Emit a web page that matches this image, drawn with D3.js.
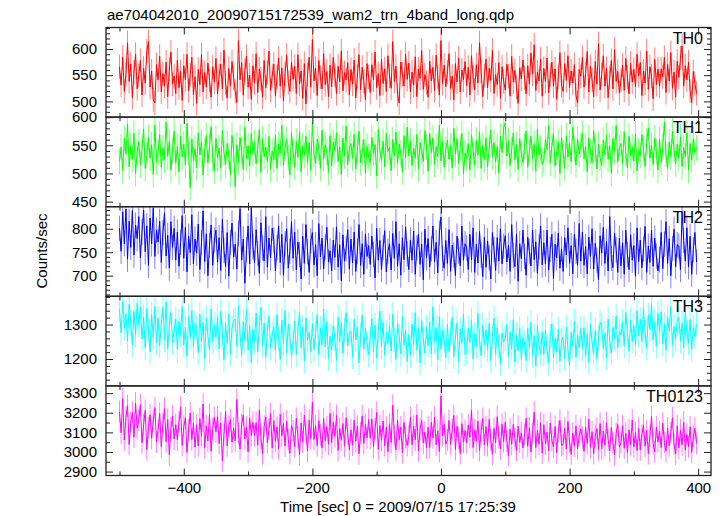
<!DOCTYPE html>
<html>
<head>
<meta charset="utf-8">
<script src="https://cdn.jsdelivr.net/npm/d3@7"></script>
<style>
  html, body { margin: 0; padding: 0; background: #fff; }
  svg { display: block; font-family: "Liberation Sans", Arial, Helvetica, sans-serif; }
</style>
</head>
<body>
<div id="chart"></div>
<script>
// ---- data ----
const titleText = "ae704042010_20090715172539_wam2_trn_4band_long.qdp";
const xLabel = "Time [sec] 0 = 2009/07/15 17:25:39";
const yLabel = "Counts/sec";
const binStart = -500;   // time of first bin (s)
const binSec = 2.5;      // bin spacing (s)
const xTicksMajor = [-400, -200, 0, 200, 400];
const xTicksMinor = [-500, -300, -100, 100, 300];

const bandNames = ["TH0", "TH1", "TH2", "TH3", "TH0123"];
const bandErrors = [23, 23, 27, 36, 56];

const th0 = [
566,531,584,519,552,612,538,571,507,556,590,524,
549,578,512,563,535,596,614,527,558,503,497,570,
541,586,518,553,529,575,509,562,594,533,548,515,
579,526,557,502,568,541,590,520,551,584,513,547,
496,561,532,589,518,555,527,573,540,508,566,537,
582,514,549,571,524,598,535,506,563,529,576,545,
519,498,616,541,574,512,559,586,527,550,504,568,
535,591,517,562,543,508,578,526,555,596,521,549,
571,510,547,583,529,564,501,553,588,536,519,575,
542,567,515,589,533,558,506,572,495,551,584,527,
618,539,563,511,578,546,524,591,532,557,509,569,
528,584,550,515,567,537,596,520,555,541,574,512,
561,533,579,507,548,589,522,565,538,503,572,546,
517,570,541,594,526,553,511,580,534,562,519,587,
548,525,614,538,567,513,497,575,552,529,590,542,
573,518,556,531,585,509,562,544,597,523,551,536,
508,577,539,565,521,588,547,512,616,534,569,528,
556,591,525,548,503,572,537,583,518,560,541,576,
530,565,512,587,546,522,570,535,612,557,509,549,
581,526,563,540,597,515,551,532,574,506,566,538,
522,571,548,510,586,537,559,527,496,564,543,579,
545,514,568,533,592,552,608,521,556,539,581,510,
563,538,583,516,550,575,529,562,504,547,593,531,
519,572,540,587,526,558,535,570,512,497,561,548,
584,527,553,595,518,567,541,509,576,533,610,522,
551,587,529,563,507,545,578,524,599,538,557,516,
540,569,521,582,546,514,573,537,561,528,590,549,
574,511,558,535,596,523,566,548,505,580,532,562,
529,562,547,584,517,571,539,593,525,556,508,577,
546,583,606,529,568,541,575,520,498,557,534,515];

const th1 = [
521,547,505,562,534,588,512,549,526,571,500,538,
556,515,543,579,509,532,564,527,551,498,586,520,
537,569,511,545,524,591,530,557,506,541,575,518,
548,503,566,529,552,515,589,538,475,561,523,544,
510,572,533,556,497,541,567,519,548,583,526,504,
562,528,545,509,576,537,515,553,531,498,568,542,
476,551,520,564,539,507,582,526,549,513,571,535,
555,517,543,578,502,561,530,547,521,566,508,540,
524,568,509,552,536,585,514,545,560,528,497,573,
538,511,557,529,574,503,549,532,566,519,555,506,
590,534,518,561,545,509,577,526,551,538,502,567,
513,556,540,572,521,547,498,563,531,584,516,544,
553,527,569,508,542,575,519,537,560,501,548,530,
519,564,535,551,496,578,541,523,557,512,571,539,
546,505,560,531,573,518,552,536,503,567,528,582,
531,558,514,545,527,569,508,555,539,521,576,547,
504,571,537,563,516,548,530,586,522,557,511,543,
559,525,549,510,580,534,562,518,546,571,499,536,
527,553,506,568,541,515,559,532,574,509,550,524,
563,512,545,577,529,555,520,548,501,566,537,581,
590,531,558,514,543,572,524,551,507,562,535,519,
548,575,511,539,566,527,553,504,579,532,545,516,
523,560,542,585,518,549,571,513,538,556,500,564,
537,509,567,529,554,521,582,543,515,561,534,550,
571,526,547,503,563,538,519,576,544,508,552,528,
514,559,533,568,525,549,501,562,539,585,521,546,
553,518,574,536,510,566,531,547,522,570,505,541,
532,569,545,512,557,581,527,550,516,563,538,506,
560,520,548,591,534,509,556,529,575,543,517,552,
527,565,512,546,530,572,506,553,524,561,537,545];

const th2 = [
801,752,836,768,842,735,816,760,839,744,808,779,
826,738,793,840,751,806,722,823,768,844,741,797,
772,816,728,792,834,742,786,716,815,760,801,733,
793,720,771,828,737,803,708,784,749,830,725,778,
748,810,713,770,838,730,789,700,765,808,722,776,
797,729,781,711,820,754,719,792,699,771,812,740,
767,714,790,843,733,778,684,755,806,725,845,762,
727,798,748,705,813,759,731,826,718,780,738,801,
776,710,760,806,728,788,701,768,800,716,752,815,
737,793,712,772,745,693,784,726,809,751,707,774,
792,723,766,700,811,740,780,714,761,803,729,753,
710,776,739,804,718,766,689,787,731,757,798,714,
778,727,793,709,752,809,722,768,703,789,741,764,
724,784,745,695,801,733,775,713,760,796,708,752,
768,712,790,737,815,720,768,701,781,734,804,746,
713,776,733,795,703,759,788,724,767,691,799,738,
779,719,757,806,730,771,706,791,825,737,716,775,
726,798,709,765,744,700,784,752,721,806,733,768,
759,713,788,734,802,707,767,727,794,744,698,782,
718,774,738,693,792,756,711,781,731,800,725,763,
785,729,765,709,809,743,719,789,688,768,736,797,
741,701,782,752,721,797,734,772,705,761,806,723,
770,725,797,712,756,788,694,767,738,791,716,757,
709,781,744,802,726,764,704,788,752,722,811,731,
793,722,762,704,782,741,800,714,769,733,691,785,
748,803,726,773,710,826,737,717,791,755,707,780,
721,770,703,797,745,713,787,733,764,699,802,730,
776,717,757,805,707,763,728,797,720,780,742,710,
734,792,715,767,815,726,779,700,758,799,719,766,
763,713,836,775,731,802,719,784,703,756,792,729];

const th3 = [
1345,1276,1368,1290,1331,1252,1359,1305,1240,1338,1270,1362,
1298,1351,1258,1322,1233,1347,1284,1221,1329,1263,1352,1247,
1318,1239,1301,1350,1255,1366,1230,1296,1335,1248,1281,1316,
1228,1309,1270,1352,1241,1293,1209,1324,1262,1341,1236,1303,
1289,1219,1330,1253,1306,1202,1318,1268,1226,1345,1250,1299,
1263,1321,1229,1338,1274,1198,1304,1246,1331,1215,1290,1312,
1316,1237,1356,1271,1211,1308,1255,1343,1227,1297,1190,1285,
1251,1333,1222,1292,1350,1240,1304,1206,1280,1324,1232,1271,
1292,1224,1329,1259,1199,1313,1245,1340,1218,1301,1263,1208,
1248,1310,1213,1283,1336,1232,1292,1194,1319,1255,1277,1221,
1302,1228,1276,1329,1214,1290,1241,1345,1235,1308,1201,1266,
1225,1297,1259,1196,1322,1250,1305,1216,1284,1334,1239,1273,
1281,1206,1315,1255,1293,1189,1270,1327,1229,1290,1247,1212,
1262,1318,1221,1298,1203,1283,1339,1235,1306,1211,1277,1246,
1295,1223,1330,1256,1199,1304,1266,1215,1324,1240,1283,1193,
1270,1211,1301,1241,1335,1226,1288,1188,1311,1258,1217,1292,
1239,1307,1214,1352,1250,1291,1197,1323,1228,1282,1255,1204,
1301,1222,1275,1320,1207,1264,1305,1192,1287,1246,1330,1213,
1219,1290,1248,1313,1200,1273,1236,1332,1257,1210,1298,1240,
1284,1227,1303,1195,1265,1319,1213,1291,1238,1186,1275,1250,
1258,1300,1207,1279,1229,1314,1191,1270,1223,1288,1199,1262,
1247,1195,1289,1231,1306,1210,1268,1180,1295,1242,1216,1279,
1214,1284,1226,1188,1266,1302,1203,1260,1220,1287,1194,1253,
1263,1201,1293,1228,1182,1277,1237,1310,1205,1270,1232,1289,
1230,1291,1208,1272,1190,1301,1249,1217,1283,1199,1262,1307,
1296,1229,1275,1204,1316,1252,1216,1291,1260,1325,1233,1280,
1270,1309,1238,1336,1276,1223,1313,1251,1298,1242,1341,1267,
1315,1251,1347,1277,1231,1328,1285,1360,1256,1307,1237,1333,
1278,1337,1244,1300,1225,1322,1281,1352,1240,1294,1259,1313,
1321,1252,1304,1233,1340,1276,1246,1315,1228,1290,1265,1301];

const th0123 = [
3205,3098,3272,3061,3177,3236,3038,3150,3201,3075,3249,3121,
3163,3241,3047,3139,3212,3012,3124,3190,3070,3158,3226,3051,
3110,3197,3027,3145,3222,3052,3166,2985,3121,3183,3066,3140,
3062,3153,3228,3033,3130,3174,2998,3112,3199,3063,3148,3024,
3139,3031,3170,3083,3245,3020,3134,3056,3191,3004,3118,3177,
3103,3180,3043,3148,2955,3090,3206,3031,3130,3165,3050,3122,
3057,3268,3094,3014,3141,3189,3066,3126,3000,3172,3085,3151,
3084,3150,3034,3214,3070,2990,3131,3178,3047,3116,3196,3020,
3160,3055,3128,3016,3193,3083,3145,3030,3157,3064,2993,3135,
3107,3027,3172,3075,2986,3148,3051,3188,3095,3005,3161,3068,
3254,3064,3134,3032,3160,3086,3020,3170,3058,3129,3039,3197,
3048,3151,3080,3186,3007,3120,3060,3145,3030,3175,3093,3012,
3113,3035,3162,3055,3131,2991,3098,3184,3043,3140,3072,3166,
3070,3168,3026,3116,3202,3013,3135,3059,3158,3032,3126,3001,
3144,3049,3238,3084,3011,3163,3062,3127,2996,3151,3075,3033,
3079,3176,3037,3132,3061,3189,3005,3118,3160,3046,3101,3021,
3126,3023,3152,3072,3177,3036,3108,3002,3286,3083,3140,3040,
3062,3161,3039,3116,3186,3012,3131,3070,2992,3144,3050,3109,
3048,3138,3075,3214,3022,3112,3053,3157,3008,3106,3171,3035,
3130,3033,3166,3061,2989,3120,3047,3180,3073,3015,3142,3052,
3152,3056,2982,3116,3039,3141,3068,3008,3132,3049,3098,3020,
3089,3172,3029,3123,3000,3096,3203,3022,3110,3040,3149,2994,
3139,3043,3101,3005,3147,3058,3026,3130,2996,3104,3161,3033,
3038,3121,3015,3156,3052,2988,3097,3030,3133,3017,3084,3118,
3073,3004,3127,3043,3168,3023,3103,2992,3082,3119,3012,3145,
3016,3107,3034,3149,3062,3006,3124,3047,2985,3094,3140,3026,
3046,3134,3019,3096,2998,3113,3037,3163,3025,3101,3008,3120,
3011,3088,3137,3029,3110,2991,3081,3181,3043,3000,3127,3052,
3105,3022,3147,3049,3004,3122,3031,3097,3175,3041,2990,3133,
3020,3112,3036,3152,3010,3090,3027,3128,2998,3080,3120,3044];

const bandValues = [th0, th1, th2, th3, th0123];
const yDomains = [[470, 641], [441, 600], [656, 847], [1122, 1382], [2880, 3337]];
const yTicksMajor = [[500, 550, 600], [450, 500, 550, 600], [700, 750, 800], [1200, 1300], [2900, 3000, 3100, 3200, 3300]];
const yMinorStep = [10, 10, 10, 20, 50];

// ---- styling / layout ----
const colors = ["#ff0000", "#00ff00", "#0000ff", "#00ffff", "#ff00ff"];
const W = 723, H = 516;
const plotL = 106, plotR = 711, plotT = 27.5, plotB = 475.5;
const nP = bandNames.length;
const pH = (plotB - plotT) / nP;
const fontSize = 15;

const svg = d3.select("#chart").append("svg")
  .attr("width", W).attr("height", H)
  .attr("viewBox", `0 0 ${W} ${H}`);
svg.append("rect").attr("width", W).attr("height", H).attr("fill", "#fff");
const defs = svg.append("defs");

const x = d3.scaleLinear().domain([-521, 420]).range([plotL, plotR]);

bandNames.forEach((name, p) => {
  const y0 = plotT + p * pH, y1 = y0 + pH;
  const dom = yDomains[p];
  const y = d3.scaleLinear().domain(dom).range([y1, y0]);
  const vals = bandValues[p];
  const err = bandErrors[p];
  const data = vals.map((v, i) => ({ t: binStart + i * binSec, v }));

  const cid = "clip" + p;
  defs.append("clipPath").attr("id", cid)
    .append("rect").attr("x", plotL).attr("y", y0).attr("width", plotR - plotL).attr("height", pH);

  const g = svg.append("g").attr("clip-path", `url(#${cid})`);
  // error bars
  g.selectAll("line.err").data(data).join("line")
    .attr("class", "err")
    .attr("x1", d => x(d.t)).attr("x2", d => x(d.t))
    .attr("y1", d => y(d.v - err)).attr("y2", d => y(d.v + err))
    .attr("stroke", colors[p]).attr("stroke-opacity", 0.5).attr("stroke-width", 1);
  // connecting line
  g.append("path").datum(data)
    .attr("d", d3.line().x(d => x(d.t)).y(d => y(d.v)))
    .attr("fill", "none").attr("stroke", colors[p]).attr("stroke-width", 1);

  // minor y ticks
  const minor = d3.range(Math.ceil(dom[0] / yMinorStep[p]) * yMinorStep[p], dom[1] + 0.001, yMinorStep[p])
    .filter(v => !yTicksMajor[p].includes(v));
  const axL = svg.append("g").attr("transform", `translate(${plotL},0)`)
    .call(d3.axisLeft(y).tickValues(yTicksMajor[p]).tickSize(-7).tickSizeOuter(0).tickPadding(9).tickFormat(d3.format("d")));
  const axLm = svg.append("g").attr("transform", `translate(${plotL},0)`)
    .call(d3.axisLeft(y).tickValues(minor).tickSize(-4).tickSizeOuter(0).tickFormat(""));
  const axR = svg.append("g").attr("transform", `translate(${plotR},0)`)
    .call(d3.axisRight(y).tickValues(yTicksMajor[p]).tickSize(-7).tickSizeOuter(0).tickFormat(""));
  const axRm = svg.append("g").attr("transform", `translate(${plotR},0)`)
    .call(d3.axisRight(y).tickValues(minor).tickSize(-4).tickSizeOuter(0).tickFormat(""));
  // x ticks top and bottom
  const axT = svg.append("g").attr("transform", `translate(0,${y0})`)
    .call(d3.axisTop(x).tickValues(xTicksMajor).tickSize(-7).tickSizeOuter(0).tickFormat(""));
  const axTm = svg.append("g").attr("transform", `translate(0,${y0})`)
    .call(d3.axisTop(x).tickValues(xTicksMinor).tickSize(-4).tickSizeOuter(0).tickFormat(""));
  const axB = svg.append("g").attr("transform", `translate(0,${y1})`)
    .call(d3.axisBottom(x).tickValues(xTicksMajor).tickSize(-7).tickSizeOuter(0).tickPadding(7)
      .tickFormat(p === nP - 1 ? (d => d < 0 ? "\u2212" + Math.abs(d) : String(d)) : ""));
  const axBm = svg.append("g").attr("transform", `translate(0,${y1})`)
    .call(d3.axisBottom(x).tickValues(xTicksMinor).tickSize(-4).tickSizeOuter(0).tickFormat(""));

  [axL, axLm, axR, axRm, axT, axTm, axB, axBm].forEach(a => {
    a.select(".domain").remove();
    a.selectAll("line").attr("stroke", "#222").attr("stroke-width", 1);
    a.selectAll("text").attr("fill", "#000").style("font-size", fontSize + "px")
      .style("font-family", '"Liberation Sans", Arial, sans-serif');
  });

  // frame
  svg.append("rect").attr("x", plotL).attr("y", y0).attr("width", plotR - plotL).attr("height", pH)
    .attr("fill", "none").attr("stroke", "#222").attr("stroke-width", 1.3);

  // panel label
  svg.append("text").attr("x", 703).attr("y", y0 + 16)
    .attr("text-anchor", "end").style("font-size", "16px").attr("fill", "#000").text(name);
});

// title
svg.append("text").attr("x", 107).attr("y", 20).style("font-size", "15px").attr("fill", "#000").text(titleText);
// x label
svg.append("text").attr("x", 398).attr("y", 512).attr("text-anchor", "middle")
  .style("font-size", "15px").attr("fill", "#000").text(xLabel);
// y label
svg.append("text").attr("transform", "translate(47,251) rotate(-90)").attr("text-anchor", "middle")
  .style("font-size", "15px").attr("fill", "#000").text(yLabel);
</script>
</body>
</html>
